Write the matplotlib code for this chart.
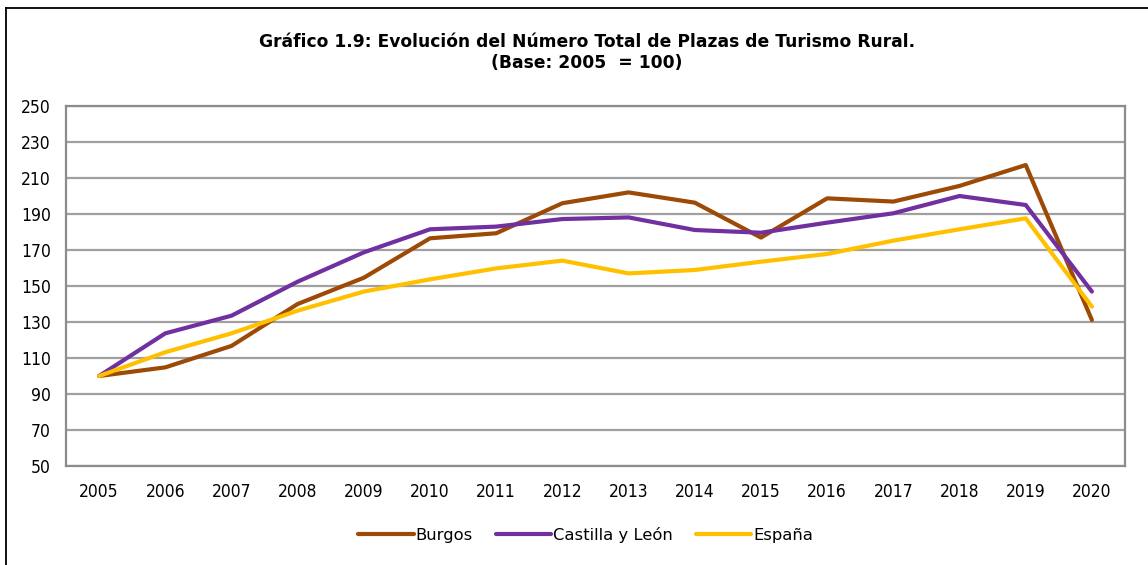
import matplotlib.pyplot as plt
from matplotlib.lines import Line2D

years = ["2005", "2006", "2007", "2008", "2009", "2010", "2011", "2012",
         "2013", "2014", "2015", "2016", "2017", "2018", "2019", "2020"]
burgos = [100, 104.8, 116.7, 140.0, 154.6, 176.5, 179.3, 196.0,
          202.0, 196.3, 176.9, 198.7, 196.9, 205.6, 217.2, 131.1]
castilla = [100, 123.7, 133.5, 152.4, 168.7, 181.5, 183.0, 187.2,
            188.1, 181.1, 179.6, 185.2, 190.4, 200.0, 195.0, 146.9]
espana = [100, 113.2, 123.7, 136.3, 146.9, 153.7, 159.8, 164.1,
          157.0, 158.9, 163.5, 167.8, 175.2, 181.5, 187.6, 138.5]

colors = {"Burgos": "#9C4A06", "Castilla y León": "#7030A0", "España": "#FFC000"}

fig = plt.figure(figsize=(11.48, 5.65), dpi=100)
ax = fig.add_axes([66 / 1148, 1 - 466 / 565, (1125 - 66) / 1148, 360 / 565])

x = range(len(years))
ax.plot(x, burgos, color=colors["Burgos"], lw=3, label="Burgos", solid_capstyle="round")
ax.plot(x, castilla, color=colors["Castilla y León"], lw=3, label="Castilla y León", solid_capstyle="round")
ax.plot(x, espana, color=colors["España"], lw=3, label="España", solid_capstyle="round")

ax.set_xlim(-0.5, len(years) - 0.5)
ax.set_ylim(50, 250)
ax.set_yticks(range(50, 251, 20))
ax.set_xticks(list(x))
ax.set_xticklabels(years)
ax.yaxis.grid(True, color="#A0A0A0", lw=1.6)
ax.set_axisbelow(True)
for s in ax.spines.values():
    s.set_color("#8C8C8C")
    s.set_linewidth(1.6)
ax.tick_params(length=0, labelsize=12.5)
ax.tick_params(axis="x", pad=12)
ax.tick_params(axis="y", pad=11)
for lab in ax.get_xticklabels() + ax.get_yticklabels():
    lab.set_fontstretch("condensed")

fig.text(0.511, 1 - 42 / 565, "Gráfico 1.9: Evolución del Número Total de Plazas de Turismo Rural.",
         ha="center", va="center", fontsize=12.3, fontweight="bold")
fig.text(0.511, 1 - 63 / 565, "(Base: 2005  = 100)",
         ha="center", va="center", fontsize=12.3, fontweight="bold")

fig.legend(loc="center", bbox_to_anchor=(0.51, 1 - 535 / 565), ncol=3, frameon=False,
           fontsize=11.8, handlelength=3.4, handletextpad=0.1, columnspacing=1.4)

# outer frame (left and top edges)
fig.add_artist(Line2D([6 / 1148, 6 / 1148], [0, 1 - 7.5 / 565], color="black", lw=1.3))
fig.add_artist(Line2D([6 / 1148, 1], [1 - 7.5 / 565, 1 - 7.5 / 565], color="black", lw=1.3))

fig.savefig("out.png", dpi=100)
